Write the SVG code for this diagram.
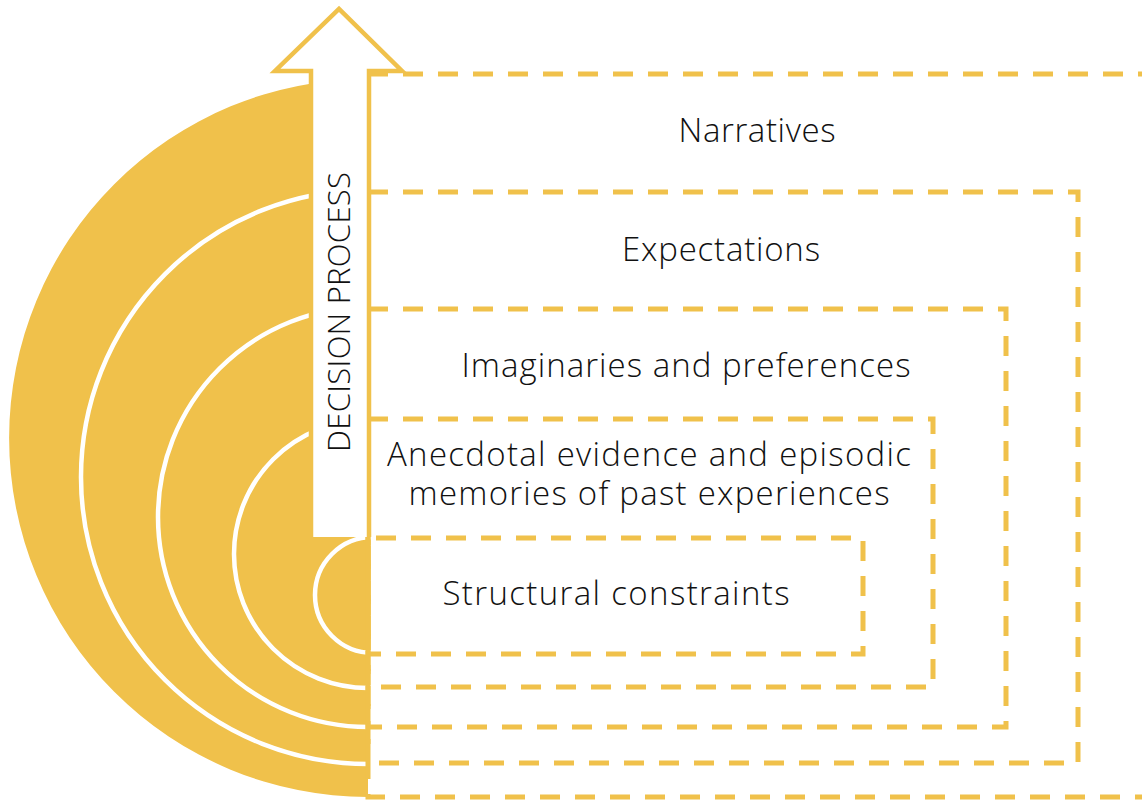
<svg xmlns="http://www.w3.org/2000/svg" width="1142" height="800" viewBox="0 0 1142 800">
<style>
.band{fill:#F0C14B}
.gap{fill:none;stroke:#FFFFFF;stroke-width:4.5}
.box{fill:none;stroke:#F0C14B;stroke-width:5;stroke-dasharray:20 15}
.lbl{font-family:"Open Sans","Noto Sans",sans-serif;font-weight:300;font-size:33px;fill:#111111;text-anchor:middle}
.arrow{fill:#FFFFFF;stroke:#F0C14B;stroke-width:4.5;stroke-linejoin:miter}
</style>
<g id="rings">
<path class="band" d="M368,79 A359,359 0 0 0 368,797 Z"/>
<path class="gap" d="M368,190 A287,287 0 0 0 368,764"/>
<path class="gap" d="M368,307 A210,210 0 0 0 368,727"/>
<path class="gap" d="M368,420 A134,134 0 0 0 368,688"/>
<path d="M373,537 A58,58 0 0 0 315,595 A58,58 0 0 0 373,653 Z" style="fill:#F0C14B;stroke:#FFFFFF;stroke-width:4.5"/>
</g>
<g id="connectors">
<path class="box" d="M368,74 H1170 V797 H368 Z"/>
</g>
<g id="narratives">
<text class="lbl" x="757" y="142" textLength="157" lengthAdjust="spacing">Narratives</text>
</g>
<g id="expectations">
<path class="box" d="M368,192 H1078 V763 H368 Z"/>
<text class="lbl" x="721" y="261" textLength="198" lengthAdjust="spacing">Expectations</text>
</g>
<g id="imaginaries">
<path class="box" d="M368,309 H1006 V727 H368 Z"/>
<text class="lbl" x="686" y="377" textLength="449" lengthAdjust="spacing">Imaginaries and preferences</text>
</g>
<g id="anecdotal">
<path class="box" d="M368,419 H933 V687 H368 Z"/>
<text class="lbl" x="649" y="466" textLength="524" lengthAdjust="spacing">Anecdotal evidence and episodic</text>
<text class="lbl" x="649" y="505" textLength="481" lengthAdjust="spacing">memories of past experiences</text>
</g>
<g id="structural">
<path class="box" d="M376,538 H863 V654 H368"/>
<text class="lbl" x="616" y="605" textLength="347" lengthAdjust="spacing">Structural constraints</text>
</g>
<g id="decision-process">
<path class="arrow" d="M311,537 L311,71 L275,71 L339,9 L402,71 L369,71 L369,537"/>
<text class="lbl" transform="translate(350,312) rotate(-90)" style="font-size:31px" textLength="280" lengthAdjust="spacing">DECISION PROCESS</text>
</g>
</svg>
